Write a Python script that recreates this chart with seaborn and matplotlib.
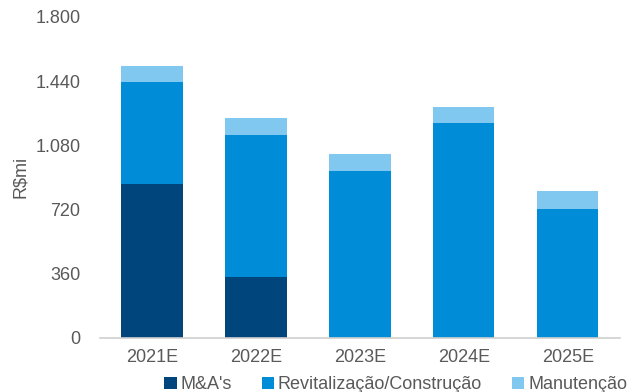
import matplotlib
matplotlib.use("Agg")
import matplotlib.pyplot as plt
import seaborn as sns
import numpy as np
import pandas as pd
from matplotlib.patches import Patch
from matplotlib.ticker import FuncFormatter

categories = ["2021E", "2022E", "2023E", "2024E", "2025E"]
ma = [864, 342, 0, 0, 0]
revit = [572, 797, 937, 1206, 724]
manut = [89, 95, 95, 90, 100]
series_names = ["M&A's", "Revitalização/Construção", "Manutenção"]
colors = ["#00467D", "#008CD6", "#80C8F0"]
yticks = [0, 360, 720, 1080, 1440, 1800]

sns.set_theme(style="white")
plt.rcParams['font.family'] = ['Liberation Sans', 'DejaVu Sans']
text_color = "#595959"

fig = plt.figure(figsize=(6.33, 3.92), dpi=100)
ax = fig.add_axes([0.158, 0.138, 0.821, 0.819])

df = pd.DataFrame({"cat": categories, "ma": ma, "revit": revit, "manut": manut})
bottom = np.zeros(len(categories))
for col, color in zip(["ma", "revit", "manut"], colors):
    sns.barplot(data=df, x="cat", y=col, bottom=bottom, color=color, width=0.59,
                ax=ax, saturation=1, edgecolor="none", linewidth=0)
    bottom = bottom + df[col].values

ax.set_ylim(0, 1800)
ax.set_xlim(-0.5, 4.5)
ax.set_yticks(yticks)
ax.yaxis.set_major_formatter(FuncFormatter(lambda v, p: f"{int(v):,}".replace(",", ".")))
ax.tick_params(axis="both", length=0, labelsize=13, colors=text_color)
ax.tick_params(axis="y", pad=14)
ax.tick_params(axis="x", pad=8)
ax.set_xlabel("")
ax.set_ylabel("R$mi", fontsize=13, color=text_color, labelpad=5)
for s in ["top", "right", "left"]:
    ax.spines[s].set_visible(False)
ax.spines["bottom"].set_color("#D0D0D0")
ax.spines["bottom"].set_linewidth(1.2)

handles = [Patch(facecolor=c, edgecolor="none") for c in colors]
fig.legend(handles, series_names, loc="lower center", bbox_to_anchor=(0.625, -0.045),
           ncol=3, frameon=False, fontsize=13, labelcolor=text_color,
           handlelength=0.7, handleheight=0.7, handletextpad=0.2, columnspacing=1.65)

fig.savefig("out.png", dpi=100)
